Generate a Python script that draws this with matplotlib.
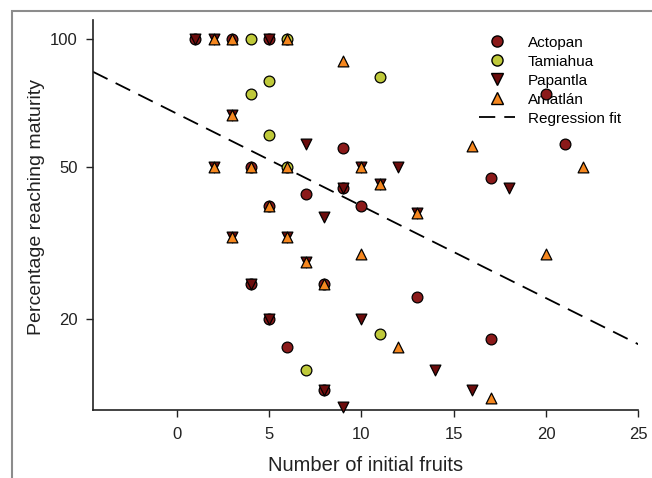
import numpy as np
import matplotlib
matplotlib.use("Agg")
import matplotlib.pyplot as plt
from matplotlib.patches import Rectangle
from matplotlib.lines import Line2D

plt.rcParams['font.family'] = ['Liberation Sans', 'DejaVu Sans']

# ---- data (percent of initial fruits reaching maturity) ----
actopan_x = [1, 3, 5, 4, 5, 8, 4, 5, 8, 9, 7, 9, 10, 13, 17, 17, 20, 21, 6]
actopan_y = [100, 100, 100, 50, 40, 25, 25, 20, 12.5, 44.4, 42.9, 55.6, 40, 23.1, 47.1, 17.6, 75, 57.1, 16.7]

tamiahua_x = [4, 6, 4, 5, 5, 6, 11, 11, 7]
tamiahua_y = [100, 100, 75, 80, 60, 50, 81.8, 18.2, 14.3]

papantla_x = [1, 2, 5, 3, 2, 3, 6, 7, 4, 5, 8, 9, 7, 8, 10, 12, 14, 16, 18, 9, 10, 11, 13]
papantla_y = [100, 100, 100, 66.7, 50, 33.3, 33.3, 28.6, 25, 20, 12.5, 44.4, 57.1, 37.5, 20, 50, 14.3, 12.5, 44.4, 11.1, 50, 45.5, 38.5]

amatlan_x = [2, 3, 6, 3, 2, 4, 6, 5, 3, 6, 7, 8, 9, 10, 11, 13, 16, 22, 20, 10, 12, 17]
amatlan_y = [100, 100, 100, 66.7, 50, 50, 50, 40, 33.3, 33.3, 28.6, 25, 88.9, 50, 45.5, 38.5, 56.3, 50, 30, 30, 16.7, 11.8]

fit_x = [-4.53, 25]
fit_y = [84.2, 17.0]

x_ticks = [0, 5, 10, 15, 20, 25]
y_ticks = [100, 50, 20]

# ---- figure ----
W, H = 652, 478
fig = plt.figure(figsize=(W / 100, H / 100), dpi=100)
fig.patches.append(Rectangle((12 / W, -0.1), 1.2, 1 - 11 / H + 0.1, transform=fig.transFigure,
                             fill=False, edgecolor='#8c8c8c', linewidth=1.5))

left, right, bottom, top = 93 / W, 638.4 / W, 1 - 410 / H, 1 - 20 / H
ax = fig.add_axes([left, bottom, right - left, top - bottom])

a = 0.14
ax.set_yscale('function', functions=(lambda y: np.sign(y) * np.abs(y) ** a,
                                     lambda t: np.sign(t) * np.abs(t) ** (1 / a)))
ax.set_xlim(-4.53, 25)
ax.set_ylim(10.88, 110.0)

ms = 60
ax.plot(fit_x, fit_y, color='black', linestyle=(0, (9, 5)), linewidth=1.3, zorder=2)
kw = dict(s=ms, edgecolors='black', linewidths=0.9, zorder=6, clip_on=False)
ax.scatter(actopan_x, actopan_y, marker='o', color='#8b1a1a', label='Actopan', **kw)
ax.scatter(tamiahua_x, tamiahua_y, marker='o', color='#bfc93a', label='Tamiahua', **kw)
ax.scatter(papantla_x, papantla_y, marker='v', color='#6b0c0c', label='Papantla', **kw)
ax.scatter(amatlan_x, amatlan_y, marker='^', color='#f5871f', label='Amatlán', **kw)

ax.set_xticks(x_ticks)
ax.set_yticks(y_ticks)
ax.set_yticklabels([str(v) for v in y_ticks])
ax.yaxis.set_minor_locator(matplotlib.ticker.NullLocator())
ax.tick_params(axis='both', direction='out', length=5, width=1, labelsize=12, colors='#222222')
ax.tick_params(axis='x', pad=7)
ax.tick_params(axis='y', pad=6)
for s in ['top', 'right']:
    ax.spines[s].set_visible(False)
for s in ['left', 'bottom']:
    ax.spines[s].set_linewidth(1.2)
    ax.spines[s].set_color('#222222')

ax.set_xlabel('Number of initial fruits', fontsize=14.5, labelpad=10, color='#222222')
ax.set_ylabel('Percentage reaching maturity', fontsize=14, color='#222222')
ax.yaxis.set_label_coords((45 - 93) / (638.4 - 93), (410 - 207) / 390)

handles = [
    Line2D([], [], marker='o', linestyle='none', markersize=8, markerfacecolor='#8b1a1a', markeredgecolor='black'),
    Line2D([], [], marker='o', linestyle='none', markersize=8, markerfacecolor='#bfc93a', markeredgecolor='black'),
    Line2D([], [], marker='v', linestyle='none', markersize=8, markerfacecolor='#6b0c0c', markeredgecolor='black'),
    Line2D([], [], marker='^', linestyle='none', markersize=8, markerfacecolor='#f5871f', markeredgecolor='black'),
    Line2D([], [], color='black', linestyle=(0, (9, 5)), linewidth=1.3),
]
labels = ['Actopan', 'Tamiahua', 'Papantla', 'Amatlán', 'Regression fit']
leg = ax.legend(handles, labels, loc='upper left', bbox_to_anchor=(471 / W, 1 - 28 / H),
                bbox_transform=fig.transFigure, frameon=False, fontsize=11,
                handlelength=2.4, handletextpad=0.8, labelspacing=0.33, borderpad=0)
leg.set_zorder(3)

fig.savefig('out.png', dpi=100)
